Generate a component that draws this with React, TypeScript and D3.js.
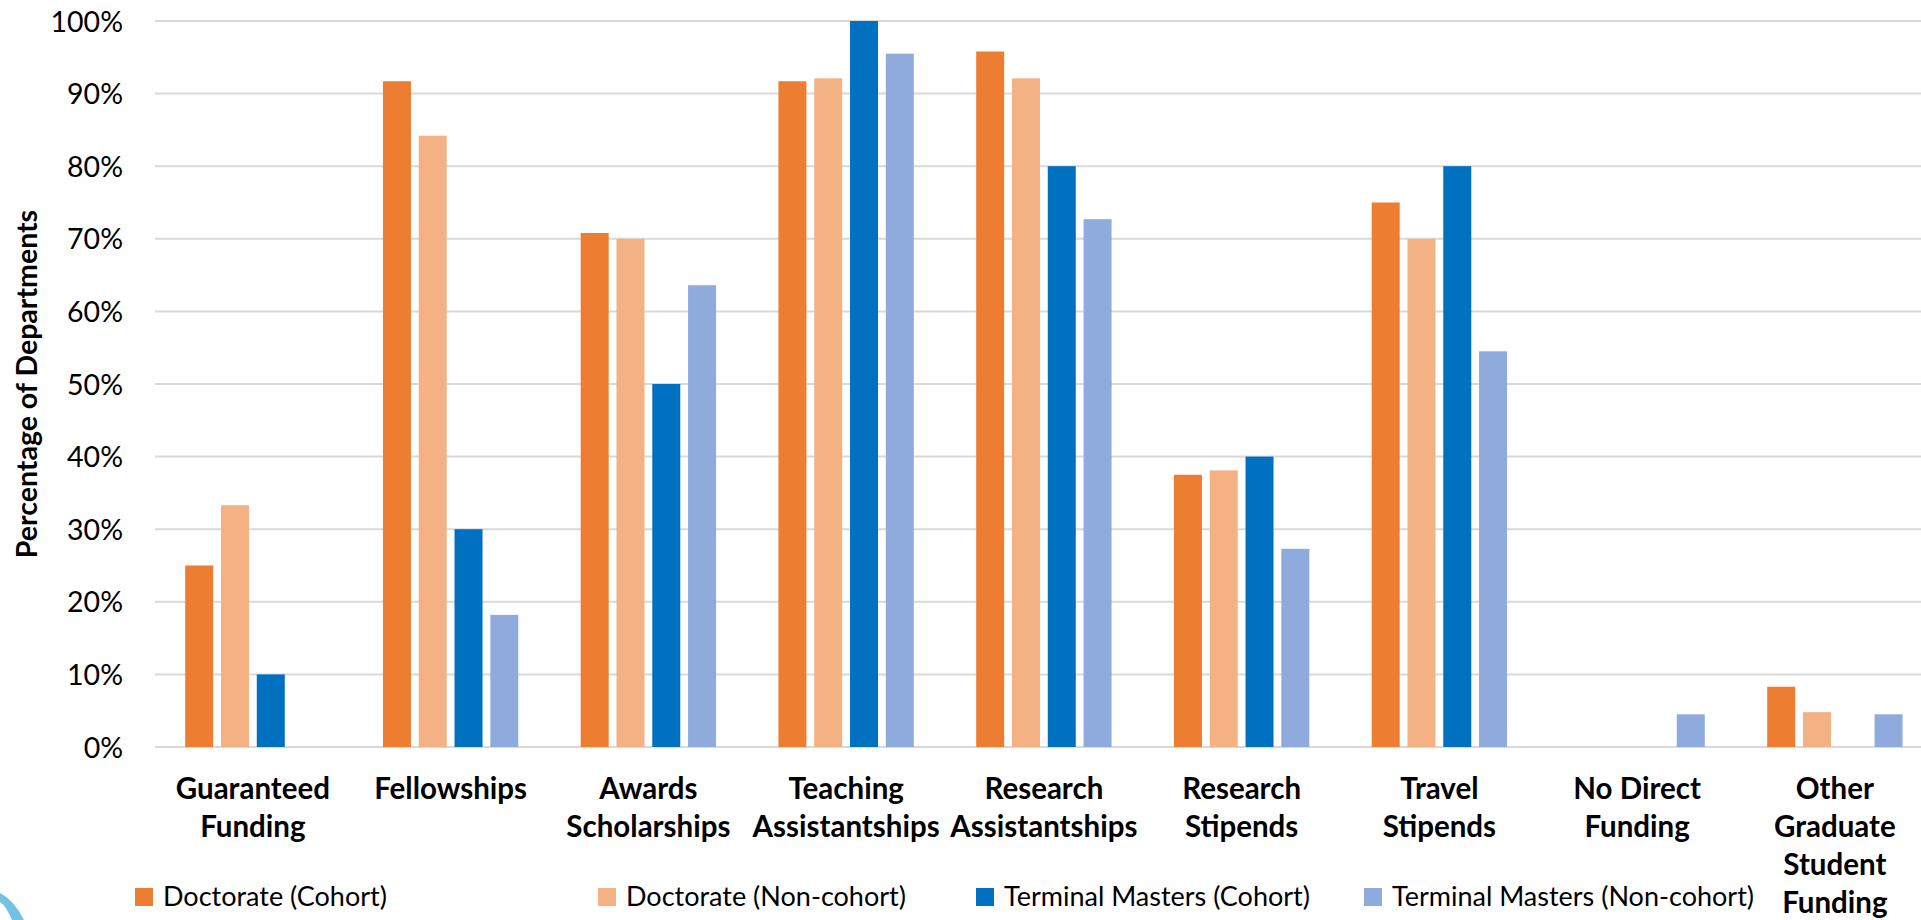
import React, { useLayoutEffect } from "react";
import * as d3 from "d3";

const categories: string[][] = [
  ["Guaranteed", "Funding"],
  ["Fellowships"],
  ["Awards", "Scholarships"],
  ["Teaching", "Assistantships"],
  ["Research", "Assistantships"],
  ["Research", "Stipends"],
  ["Travel", "Stipends"],
  ["No Direct", "Funding"],
  ["Other", "Graduate", "Student", "Funding"],
];

const seriesNames = [
  "Doctorate (Cohort)",
  "Doctorate (Non-cohort)",
  "Terminal Masters (Cohort)",
  "Terminal Masters (Non-cohort)",
];

const doctorateCohort = [25, 91.7, 70.8, 91.7, 95.8, 37.5, 75, 0, 8.3];
const doctorateNonCohort = [33.3, 84.2, 70, 92.1, 92.1, 38.1, 70, 0, 4.8];
const mastersCohort = [10, 30, 50, 100, 80, 40, 80, 0, 0];
const mastersNonCohort = [0, 18.2, 63.6, 95.5, 72.7, 27.3, 54.5, 4.5, 4.5];

const yTicks = [0, 10, 20, 30, 40, 50, 60, 70, 80, 90, 100];

const colors = ["#ED7D31", "#F4B183", "#0070C0", "#8FAADC"];

const W = 1921;
const H = 920;

export default function App() {
  useLayoutEffect(() => {
    document.body.style.margin = "0";
    document.body.style.overflow = "hidden";
  }, []);

  const series = [doctorateCohort, doctorateNonCohort, mastersCohort, mastersNonCohort];
  const catKeys = categories.map((c) => c.join(" "));

  const plotLeft = 154;
  const band = 197.75;
  const x0 = d3
    .scaleBand<string>()
    .domain(catKeys)
    .range([plotLeft, plotLeft + band * catKeys.length])
    .paddingInner(0.3155)
    .paddingOuter(0.3155 / 2);
  const x1 = d3
    .scaleBand<string>()
    .domain(seriesNames)
    .range([0, x0.bandwidth()])
    .paddingInner(0.218)
    .paddingOuter(0);
  const y = d3.scaleLinear().domain([0, 100]).range([747, 21]);

  const fmt = (v: number) => `${v}%`;
  const font = "Lato, 'Open Sans', sans-serif";
  const legendX = [135, 598, 976, 1364];

  return (
    <svg
      width={W}
      height={H}
      style={{ position: "absolute", left: 0, top: 0, display: "block", background: "#fff" }}
      fontFamily={font}
    >
      <rect x={0} y={0} width={W} height={H} fill="#fff" />
      {yTicks.map((t) => (
        <line
          key={`g${t}`}
          x1={155}
          x2={W}
          y1={y(t)}
          y2={y(t)}
          stroke="#D9D9D9"
          strokeWidth={2}
        />
      ))}
      {yTicks.map((t) => (
        <text
          key={`t${t}`}
          x={123}
          y={y(t) + 10.5}
          textAnchor="end"
          fontSize={28.5}
          fill="#000"
        >
          {fmt(t)}
        </text>
      ))}
      {catKeys.map((c, ci) => (
        <g key={c} transform={`translate(${x0(c)},0)`}>
          {series.map((s, si) =>
            s[ci] > 0 ? (
              <rect
                key={si}
                x={x1(seriesNames[si])}
                y={y(s[ci])}
                width={x1.bandwidth()}
                height={y(0) - y(s[ci])}
                fill={colors[si]}
              />
            ) : null
          )}
        </g>
      ))}
      {categories.map((lines, ci) => {
        const cx = (x0(catKeys[ci]) as number) + x0.bandwidth() / 2;
        return (
          <text
            key={`c${ci}`}
            x={cx}
            y={799}
            textAnchor="middle"
            fontSize={29.5}
            fontWeight="bold"
            fill="#000"
          >
            {lines.map((l, li) => (
              <tspan key={li} x={cx} y={799 + li * 38}>
                {l}
              </tspan>
            ))}
          </text>
        );
      })}
      <text
        transform={`translate(37,${(y(0) + y(100)) / 2}) rotate(-90)`}
        textAnchor="middle"
        fontSize={28.5}
        fontWeight="bold"
        fill="#000"
      >
        Percentage of Departments
      </text>
      {seriesNames.map((n, i) => (
        <g key={n} transform={`translate(${legendX[i]},888)`}>
          <rect x={0} y={0} width={18} height={18} fill={colors[i]} />
          <text x={28} y={17.5} fontSize={27} fill="#000">
            {n}
          </text>
        </g>
      ))}
      <path d="M0,893 Q14,900 24,920 L12,920 Q6,906 0,902 Z" fill="#4FB3E0" opacity={0.8} />
    </svg>
  );
}
